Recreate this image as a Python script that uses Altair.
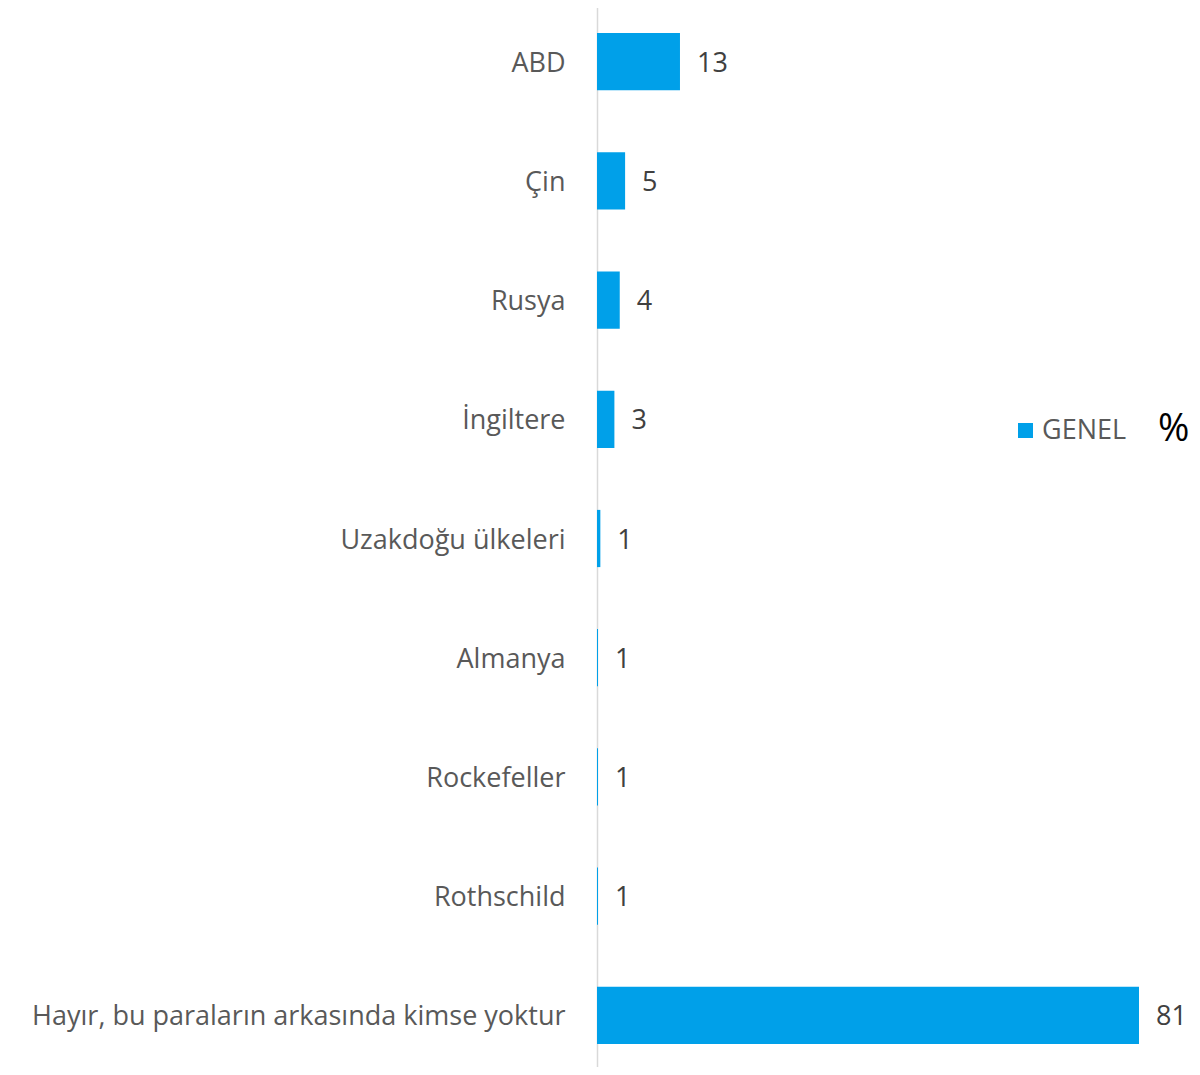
import altair as alt
import pandas as pd

categories = ["ABD", "Çin", "Rusya", "İngiltere", "Uzakdoğu ülkeleri", "Almanya",
              "Rockefeller", "Rothschild", "Hayır, bu paraların arkasında kimse yoktur"]
bar_values = [12.4, 4.2, 3.4, 2.6, 0.5, 0.15, 0.15, 0.15, 81.0]
value_labels = ["13", "5", "4", "3", "1", "1", "1", "1", "81"]
series_name = "GENEL"

df = pd.DataFrame({"cat": categories, "val": bar_values, "lab": value_labels,
                   "series": [series_name] * len(categories)})

FONT = "Open Sans"

y_enc = alt.Y("cat:N", sort=categories,
              scale=alt.Scale(paddingInner=0.52, paddingOuter=0.26),
              axis=alt.Axis(title=None, labelFont=FONT, labelFontSize=27,
                            labelColor="#595959", labelPadding=32, ticks=False,
                            grid=False, labelOffset=2,
                            domainColor="#d9d9d9", domainWidth=1.5, labelLimit=800))
x_enc = alt.X("val:Q", scale=alt.Scale(domain=[0, 81], nice=False), axis=None)

bars = alt.Chart(df).mark_bar().encode(
    y=y_enc, x=x_enc,
    color=alt.Color("series:N", scale=alt.Scale(range=["#00A0E9"]),
                    legend=alt.Legend(title="%", titleOrient="right", titleFont=FONT,
                                      titleFontSize=38, titleColor="#000000",
                                      titleFontWeight="normal", titlePadding=32,
                                      symbolType="square", symbolSize=225,
                                      symbolStrokeWidth=0, padding=0,
                                      labelFont=FONT, labelFontSize=27,
                                      labelColor="#595959", labelOffset=3,
                                      orient="none", legendX=415, legendY=415))
)

text = alt.Chart(df).mark_text(align="left", baseline="middle", dx=17, dy=2, font=FONT,
                               fontSize=27, color="#404040").encode(
    y=y_enc, x=x_enc, text="lab:N")

chart = alt.layer(bars, text).properties(
    width=542, height=1073, background="white",
    padding={"left": 23, "top": -6, "right": 0, "bottom": -8},
).configure_view(stroke=None, strokeWidth=0)

chart.save("out.html", embed_options={"renderer": "svg", "actions": False})
